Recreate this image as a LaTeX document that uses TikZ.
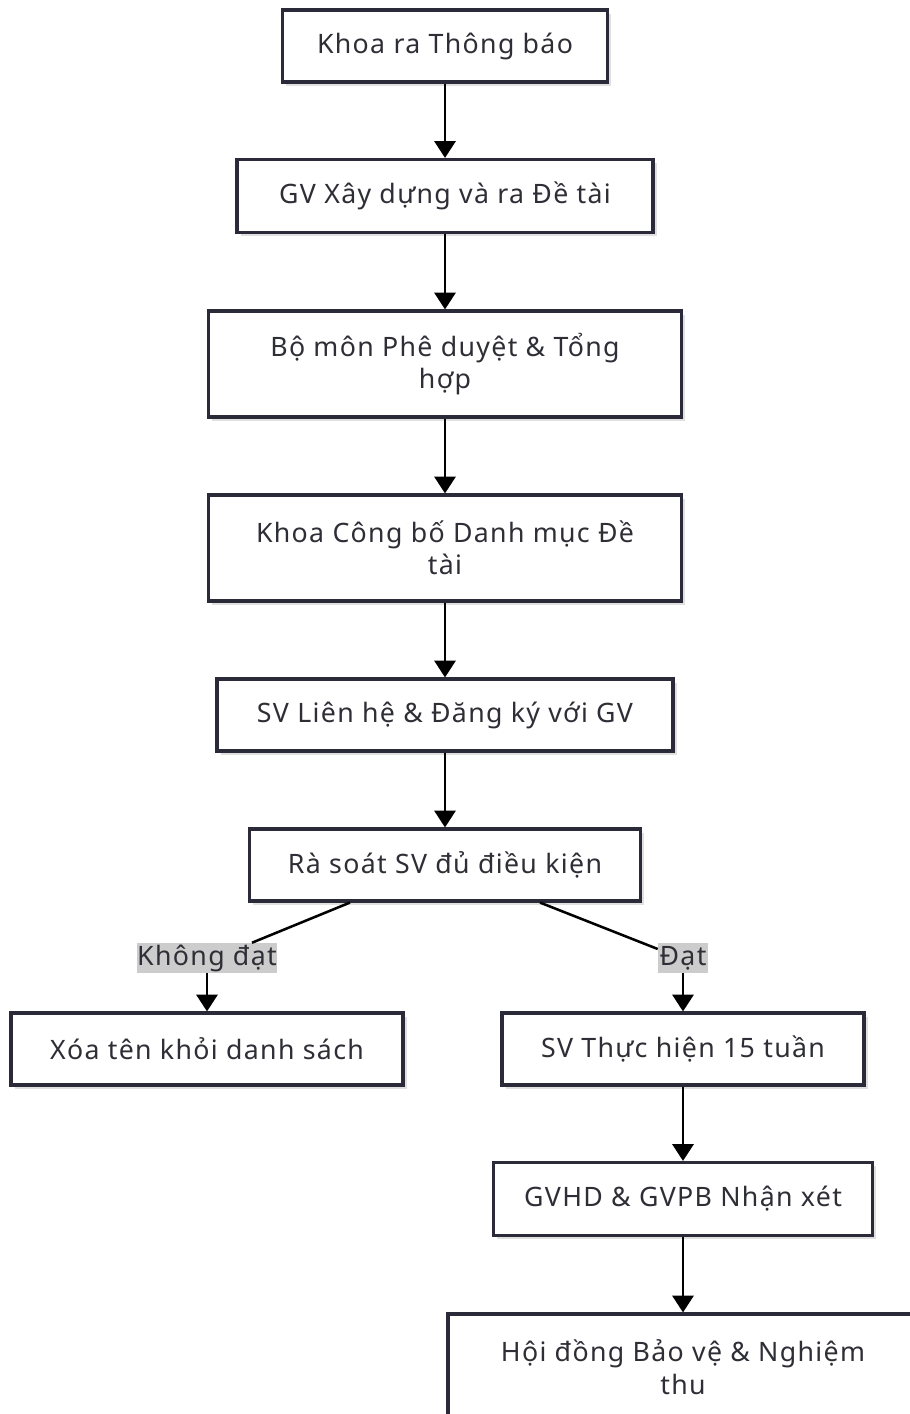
\documentclass[tikz,border=0pt]{standalone}
\usepackage{fontspec}
\setmainfont{Noto Sans}[LetterSpace=5]
\usetikzlibrary{arrows.meta,shadows,calc}
\definecolor{boxline}{HTML}{2A2A38}
\definecolor{textgray}{HTML}{2E2E36}
\begin{document}
\begin{tikzpicture}[x=0.025cm,y=-0.025cm]
  \def\u{0.025cm}
  \tikzset{
    stepbox/.style={draw=boxline, line width=2.2pt, fill=white, align=center,
      inner sep=0pt, text=textgray, font=\fontsize{19}{23}\selectfont,
      drop shadow={shadow xshift=2.5pt, shadow yshift=-2.5pt, opacity=0.12, fill=black}},
    tag/.style={fill=gray!40, inner sep=0pt, minimum height=30*\u,
      text=textgray, font=\fontsize{19}{23}\selectfont},
    flow/.style={draw=black, line width=2.1pt, -{Triangle[width=15pt,length=12pt]}},
    branch/.style={draw=black, line width=1.8pt}
  }
  \useasboundingbox (0,0) rectangle (909,1414);

  %--- main column ---
  \node[stepbox, minimum width=325*\u, minimum height=72*\u] (notice)  at (445,46)  {Khoa ra Thông báo};
  \node[stepbox, minimum width=416*\u, minimum height=73*\u] (propose) at (445,196) {GV Xây dựng và ra Đề tài};
  \node[stepbox, minimum width=473*\u, minimum height=106*\u] (approve) at (445,364) {Bộ môn Phê duyệt \& Tổng\\hợp};
  \node[stepbox, minimum width=473*\u, minimum height=106*\u] (publish) at (445,548) {Khoa Công bố Danh mục Đề\\tài};
  \node[stepbox, minimum width=456*\u, minimum height=72*\u] (register) at (445,715) {SV Liên hệ \& Đăng ký với GV};
  \node[stepbox, minimum width=391*\u, minimum height=72*\u] (check)   at (445,865) {Rà soát SV đủ điều kiện};

  %--- branch labels ---
  \node[tag, minimum width=140*\u] (tagno)  at (207,958) {Không đạt};
  \node[tag, minimum width=50*\u]  (tagyes) at (683,958) {Đạt};

  %--- branches ---
  \node[stepbox, minimum width=392*\u, minimum height=72*\u] (remove)  at (207,1049) {Xóa tên khỏi danh sách};
  \node[stepbox, minimum width=362*\u, minimum height=72*\u] (work)    at (683,1049) {SV Thực hiện 15 tuần};
  \node[stepbox, minimum width=379*\u, minimum height=73*\u] (review)  at (683,1199) {GVHD \& GVPB Nhận xét};
  \node[stepbox, minimum width=470*\u, minimum height=106*\u] (defense) at (683,1367) {Hội đồng Bảo vệ \& Nghiệm\\thu};

  %--- connectors ---
  \draw[flow] (notice.south)   -- (propose.north);
  \draw[flow] (propose.south)  -- (approve.north);
  \draw[flow] (approve.south)  -- (publish.north);
  \draw[flow] (publish.south)  -- (register.north);
  \draw[flow] (register.south) -- (check.north);
  \draw[branch] ($(check.south)+(-95,0)$) -- ($(tagno.north)+(45,0)$);
  \draw[branch] ($(check.south)+(95,0)$)  -- ($(tagyes.west)+(0,-9)$);
  \draw[flow] (tagno.south)  -- (remove.north);
  \draw[flow] (tagyes.south) -- (work.north);
  \draw[flow] (work.south)   -- (review.north);
  \draw[flow] (review.south) -- (defense.north);
\end{tikzpicture}
\end{document}
